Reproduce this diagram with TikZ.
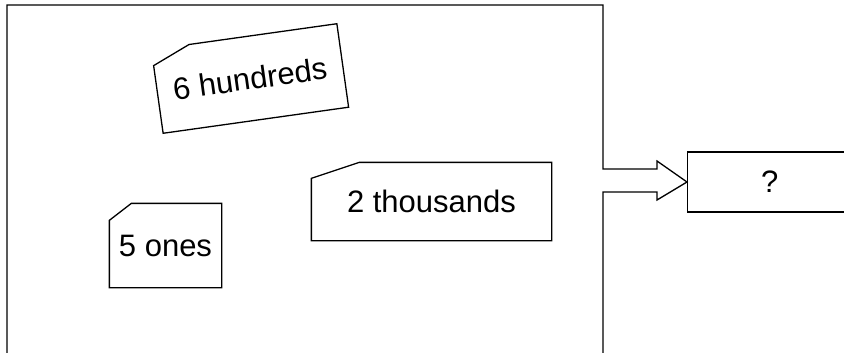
\documentclass[tikz,border=0pt]{standalone}
\usepackage{fontspec}
\setmainfont{Liberation Sans}
\usetikzlibrary{calc,positioning}

\newcommand{\cardline}[3]{\draw ($(#1.north west)!#3!(#1.south west)$)
    -- ($(#1.north west)!#2!(#1.north east)$) -- (#1.north east)
    -- (#1.south east) -- (#1.south west) -- cycle;}

\begin{document}
\begin{tikzpicture}
[x=1pt,y=1pt,line width=1.3pt,
 card/.style={rectangle,inner sep=0pt,font=\fontsize{31}{37}\selectfont},
 answer/.style={rectangle,draw=black,inner sep=0pt,minimum width=164,
    minimum height=60,font=\fontsize{31}{37}\selectfont}]
\clip (0,0) rectangle (844,-353);

\node[card,minimum width=186,minimum height=83,rotate=8] (hund)
    at (250,-78.5) {\raisebox{-3pt}{6 hundreds}};
\node[card,minimum width=111,minimum height=83] (ones)
    at (165.5,-245.5) {\raisebox{-6pt}{5 ones}};
\node[card,minimum width=239,minimum height=77] (thou)
    at (431.5,-201.5) {\raisebox{-3pt}{2 thousands}};
\cardline{hund}{38pt}{16pt}
\cardline{ones}{22pt}{17pt}
\cardline{thou}{48pt}{16pt}

\node[answer,anchor=west] (ans) at (687,-182) {?};

\draw (603,-360) |- (657,-192) -- (657,-200) -- (ans.west) -- (657,-161)
    -- (657,-169) -| (603,-5) -| (7,-360);
\end{tikzpicture}
\end{document}
